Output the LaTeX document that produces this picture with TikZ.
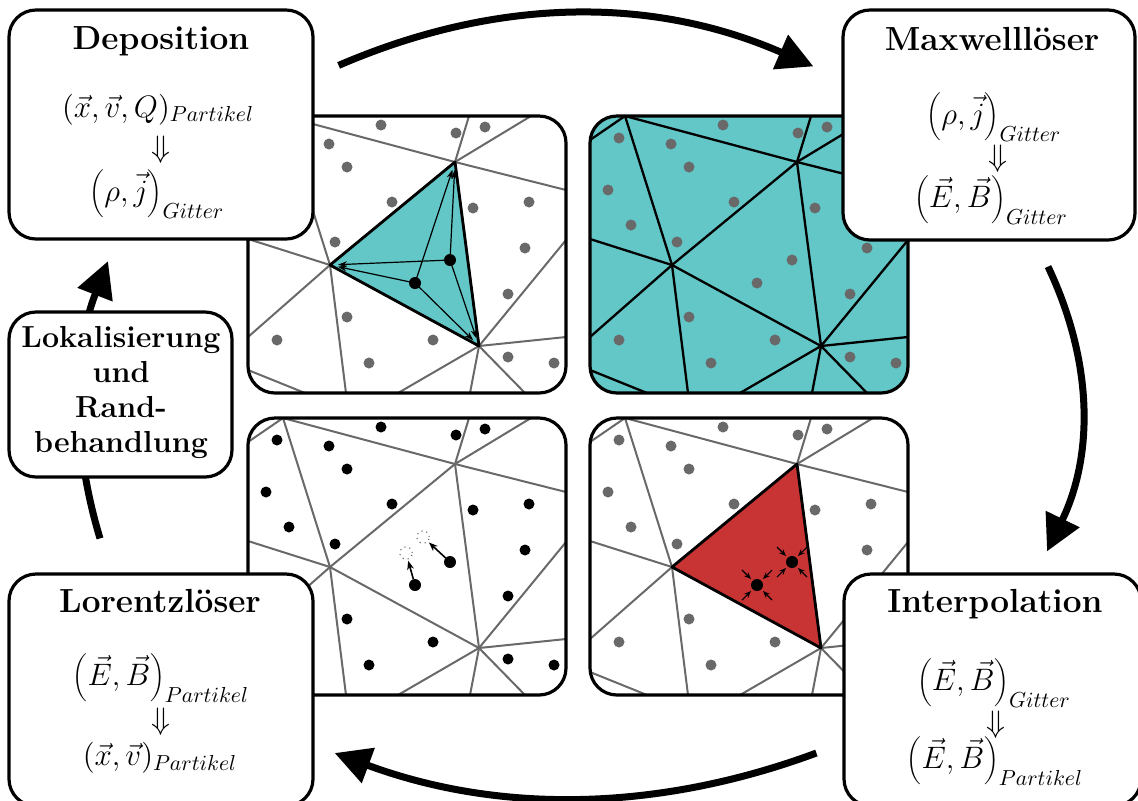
\documentclass[tikz,border=0pt]{standalone}
\usepackage{fix-cm}
\usepackage{fontspec}
\usetikzlibrary{arrows.meta}

\pgfdeclarelayer{back}
\pgfsetlayers{back,main}

\definecolor{fieldcyan}{RGB}{99,198,199}
\definecolor{cellred}{RGB}{200,51,51}
\definecolor{meshgray}{RGB}{105,105,105}

\tikzset{
  stagebox/.style={draw, line width=1.6pt, fill=white, rounded corners=13.5pt, inner sep=0pt},
  stagetitle/.style={anchor=base, inner sep=0pt, font=\fontsize{16.7}{20}\selectfont\bfseries},
  formula/.style={anchor=base, inner sep=0pt, font=\fontsize{15.5}{18}\selectfont},
  cyclearrow/.style={line width=3.5pt, -{Triangle[length=18pt,width=18pt]}},
  panelframe/.style={line width=1.6pt, rounded corners=13.5pt},
  thinmesh/.style={meshgray, line width=1pt, line cap=round},
  darkmesh/.style={black, line width=1.15pt, line cap=round},
  celledge/.style={black, line width=1.4pt, line join=round},
  weightarrow/.style={line width=0.6pt, -{Stealth[length=4.5pt,width=3pt]}, shorten >=4pt},
  pusharrow/.style={line width=0.8pt, -{Stealth[length=4.5pt,width=3.4pt]}, shorten <=3pt, shorten >=4pt},
  gatherarrow/.style={line width=0.55pt, -{Stealth[length=3.5pt,width=2.8pt]}},
  ghost/.style={meshgray, dotted, line width=0.55pt},
}

% charge and current density on the grid
\newcommand\rhoj{\left(\rho,\vec{j}\vphantom{\vec{E}}\right)}

% vertices of the triangular mesh, in panel coordinates
\newcommand\meshpoints{%
  \coordinate (Ak) at (0,24);
  \coordinate (A) at (35,0);
  \coordinate (B) at (207,46);
  \coordinate (C) at (82,149);
  \coordinate (D) at (231,230);
  \coordinate (T2) at (221,0);
  \coordinate (T3) at (283,0);
  \coordinate (R1) at (318,74);
  \coordinate (R2) at (318,221);
  \coordinate (R3) at (318,124);
  \coordinate (L1) at (0,123);
  \coordinate (L2) at (0,221);
  \coordinate (Lb) at (0,254);
  \coordinate (Bb) at (57,277);
  \coordinate (B1) at (98,277);
  \coordinate (B2) at (150,277);
  \coordinate (B3) at (222,277);
  \coordinate (B4) at (277,277);
  \coordinate (p1) at (202,144);
  \coordinate (p2) at (167,167);
}
\newcommand\meshedges[1]{%
  \foreach \ma/\mb in {Ak/A, A/C, A/B, B/R1, B/T2, B/T3, B/C, B/D, C/D, C/L1,
                       C/L2, C/B1, D/B2, D/B3, D/B4, D/R2, D/R3, Lb/Bb}
    {\draw[#1] (\ma) -- (\mb);}
}
% particles that are not highlighted
\newcommand\dotlist{133/9, 208/17, 237/11, 29/22, 81/28, 99/51, 18/74, 144/86,
  225/92, 281/86, 41/109, 87/126, 277/132, 260/178, 99/201, 29/224, 185/224,
  121/247, 260/241, 306/247}
\newcommand\meshdots[1]{\foreach \dx/\dy in \dotlist {\fill[#1] (\dx,\dy) circle (2.75pt);}}

\begin{document}
\begin{tikzpicture}[x=0.5pt, y=-0.5pt]
\useasboundingbox (0,0) rectangle (1138,800);

% ---------- panel: charge deposition ----------
\begin{scope}[shift={(248,116)}]
  \meshpoints
  \begin{scope}
    \clip[rounded corners=13.5pt] (0,0) rectangle (318,277);
    \fill[fieldcyan] (B) -- (C) -- (D) -- cycle;
    \meshedges{thinmesh}
    \draw[celledge] (B) -- (C) -- (D) -- cycle;
    \meshdots{meshgray}
    \foreach \q in {p1,p2} {\foreach \tgt in {B,C,D} {\draw[weightarrow] (\q) -- (\tgt);}}
    \fill (p1) circle (3pt);
    \fill (p2) circle (3pt);
  \end{scope}
  \draw[panelframe] (0,0) rectangle (318,277);
\end{scope}

% ---------- panel: field solver ----------
\begin{scope}[shift={(590,116)}]
  \meshpoints
  \begin{scope}
    \clip[rounded corners=13.5pt] (0,0) rectangle (318,277);
    \fill[fieldcyan] (0,0) rectangle (318,277);
    \meshedges{darkmesh}
    \meshdots{meshgray}
    \fill[meshgray] (p1) circle (2.75pt);
    \fill[meshgray] (p2) circle (2.75pt);
  \end{scope}
  \draw[panelframe] (0,0) rectangle (318,277);
\end{scope}

% ---------- panel: particle push ----------
\begin{scope}[shift={(248,418)}]
  \meshpoints
  \coordinate (g1) at (175,119);
  \coordinate (g2) at (158,135);
  \begin{scope}
    \clip[rounded corners=13.5pt] (0,0) rectangle (318,277);
    \meshedges{thinmesh}
    \meshdots{black}
    \draw[ghost] (g1) circle (3.1pt);
    \draw[ghost] (g2) circle (3.1pt);
    \draw[pusharrow] (p1) -- (g1);
    \draw[pusharrow] (p2) -- (g2);
    \fill (p1) circle (3pt);
    \fill (p2) circle (3pt);
  \end{scope}
  \draw[panelframe] (0,0) rectangle (318,277);
\end{scope}

% ---------- panel: field interpolation ----------
\begin{scope}[shift={(590,418)}]
  \meshpoints
  \begin{scope}
    \clip[rounded corners=13.5pt] (0,0) rectangle (318,277);
    \fill[cellred] (B) -- (C) -- (D) -- cycle;
    \meshedges{thinmesh}
    \draw[celledge] (B) -- (C) -- (D) -- cycle;
    \meshdots{meshgray}
    \foreach \q in {p1,p2} {
      \foreach \sx/\sy in {1/1, 1/-1, -1/1, -1/-1} {
        \draw[gatherarrow] ([shift={(15*\sx,15*\sy)}]\q) -- ([shift={(6*\sx,6*\sy)}]\q);
      }
      \fill (\q) circle (3pt);
    }
  \end{scope}
  \draw[panelframe] (0,0) rectangle (318,277);
\end{scope}

% ---------- stage boxes ----------
\node[stagebox, minimum width=152pt, minimum height=114.5pt] (dep) at (161,124.5) {};
\node[stagebox, minimum width=146pt, minimum height=115pt] (max) at (989,125) {};
\node[stagebox, minimum width=152pt, minimum height=116pt] (lor) at (161,690) {};
\node[stagebox, minimum width=148.5pt, minimum height=116pt] (int) at (992.5,690) {};
\node[stagebox, minimum width=111.5pt, minimum height=82.5pt] (lok) at (120.5,394.5) {};

\node[stagetitle] (depT) at (161,49) {Deposition};
\node[formula] (dep1) at (158,117) {$(\vec{x},\vec{v},Q)_{Partikel}$};
\node[formula] (dep2) at (161,157.5) {$\Downarrow$};
\node[formula] (dep3) at (157,201.5) {$\rhoj_{Gitter}$};

\node[stagetitle] (maxT) at (992,50) {Maxwelllöser};
\node[formula] (max1) at (994,124) {$\rhoj_{Gitter}$};
\node[formula] (max2) at (998,166) {$\Downarrow$};
\node[formula] (max3) at (991,207.5) {$\left(\vec{E},\vec{B}\right)_{Gitter}$};

\node[stagetitle] (lorT) at (160,612.7) {Lorentzlöser};
\node[formula] (lor1) at (161,685.5) {$\left(\vec{E},\vec{B}\right)_{Partikel}$};
\node[formula] (lor2) at (161,729.5) {$\Downarrow$};
\node[formula] (lor3) at (160,765.5) {$(\vec{x},\vec{v})_{Partikel}$};

\node[stagetitle] (intT) at (995,612.7) {Interpolation};
\node[formula] (int1) at (994,690) {$\left(\vec{E},\vec{B}\right)_{Gitter}$};
\node[formula] (int2) at (996,732) {$\Downarrow$};
\node[formula] (int3) at (995,768.5) {$\left(\vec{E},\vec{B}\right)_{Partikel}$};

\node[align=center, inner sep=0pt, font=\fontsize{15.2}{17.5}\selectfont\bfseries]
  (lokT) at (121,392) {Lokalisierung\\und\\Rand-\\behandlung};

% ---------- cycle arrows ----------
\draw[cyclearrow] ([shift={(24,57)}]dep.north east)
  .. controls +(160,-69) and +(-160,-70) .. ([shift={(-28,58)}]max.north west);
\draw[cyclearrow] ([shift={(59,25)}]max.south)
  .. controls +(45.5,96) and +(46.5,-96) .. ([shift={(54.5,-21)}]int.north);
\draw[cyclearrow] ([shift={(-26,63)}]int.west)
  .. controls +(-162,60) and +(162,60) .. ([shift={(20,63)}]lor.east);
\begin{pgfonlayer}{back}
\draw[cyclearrow] ([shift={(-61,-34)}]lor.north)
  .. controls +(-28,-93) and +(-36,93) .. ([shift={(-53,20.5)}]dep.south);
\end{pgfonlayer}
\end{tikzpicture}
\end{document}
